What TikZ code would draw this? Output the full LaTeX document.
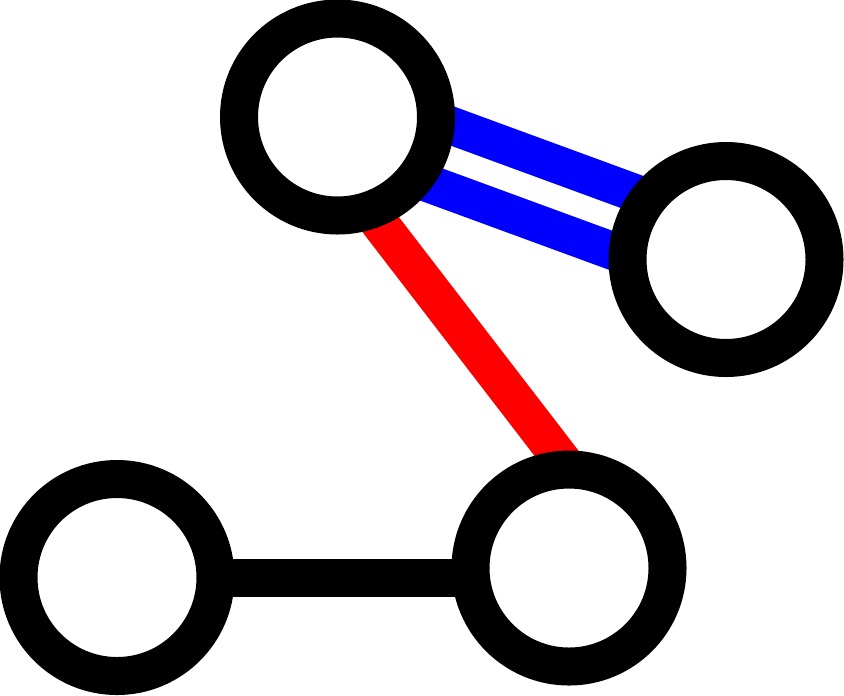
\documentclass[tikz,border=0pt]{standalone}
\usepackage{xcolor}
\usetikzlibrary{backgrounds}

\begin{document}
\begin{tikzpicture}[every node/.style={circle,draw,fill=white,line width=0.38cm,inner sep=0pt,outer sep=0pt},minimum size=1.97cm]
\useasboundingbox (0,0) rectangle (8.44,-6.95);
\node at(3.375,-1.17)(tl){};
\node at(7.26,-2.595)(rt){};
\node at(5.69,-5.68) (br){};
\node at(1.17,-5.775)(bl){};
\begin{scope}[on background layer]
\draw[blue,line width=0.38cm,double=white,double distance=0.24cm](tl)--(rt);
\draw[red,line width=0.38cm](tl.-71)--(br.north);
\draw[line width=0.38cm](bl)--(bl-|br);
\end{scope}
\end{tikzpicture}
\end{document}
